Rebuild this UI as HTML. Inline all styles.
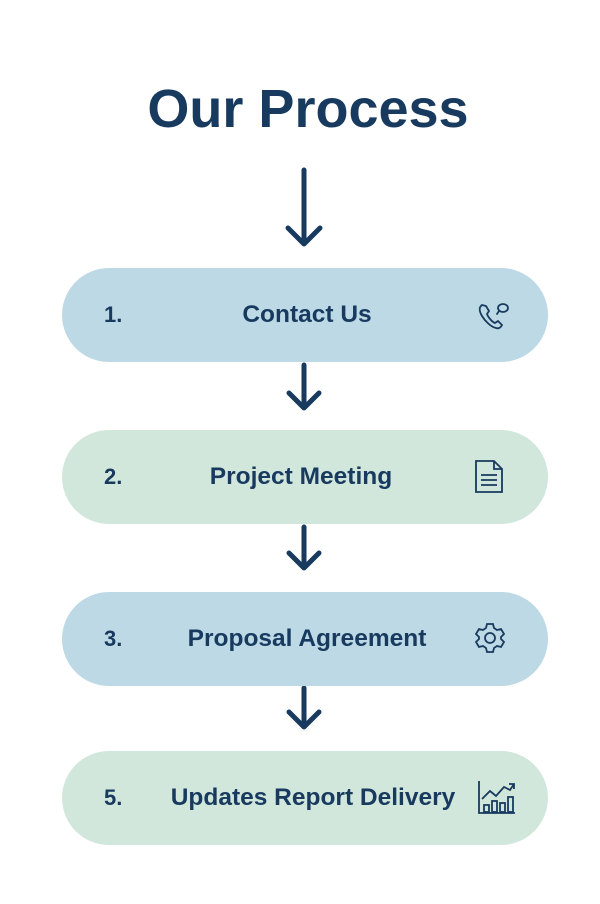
<!DOCTYPE html>
<html><head><style>
body{margin:0;width:600px;height:904px;background:#fff;position:relative;font-family:"Liberation Sans",sans-serif;color:#173a5e;overflow:hidden}
.t{position:absolute;left:0;width:600px;top:78px;text-align:center;font-size:54px;font-weight:bold;letter-spacing:0px;margin-left:8px}
.p{position:absolute;left:62px;width:486px;height:94px;border-radius:47px}
.n{position:absolute;left:42px;top:0;line-height:94px;font-size:22px;font-weight:bold}
.l{position:absolute;left:0;width:486px;text-align:center;top:0;line-height:94px;font-size:24.5px;font-weight:bold}
svg{position:absolute}
</style></head><body>
<div class="t">Our Process</div>
<svg width="600" height="904" style="left:0;top:0">
<g stroke="#173a5e" stroke-width="5" fill="none" stroke-linecap="round" stroke-linejoin="round">
<path d="M304 170V243M288 228L304 244L320 228"/>
<path d="M304 365V407M289 393L304 408L319 393"/>
<path d="M304 527V567M289 553L304 568L319 553"/>
<path d="M304 688V726M289 712L304 727L319 712"/>
</g>
</svg>
<div class="p" style="top:268px;background:#bcd9e5"><div class="n">1.</div><div class="l" style="left:2px">Contact Us</div>
<svg style="left:414px;top:32px" width="36" height="34" viewBox="0 0 36 34" fill="none" stroke="#173a5e" stroke-width="1.8" stroke-linecap="round"><path d="M6 5c-3 2-3 6 0 11s9 11 14 12c3 1 5-1 6-3l-4-4-3 2c-3-1-7-6-8-9l2-3-3-5z"/><ellipse cx="27" cy="8" rx="5" ry="4"/><path d="M23 11l-2 3"/></svg></div>
<div class="p" style="top:430px;background:#d2e7dc"><div class="n">2.</div><div class="l" style="left:-4px">Project Meeting</div>
<svg style="left:410px;top:28px" width="34" height="38" viewBox="0 0 34 38" fill="none" stroke="#173a5e" stroke-width="1.8"><path d="M4 3h18l8 8v23H4z"/><path d="M22 3v8h8M9 17h16M9 22h16M9 27h16"/></svg></div>
<div class="p" style="top:592px;background:#bcd9e5"><div class="n">3.</div><div class="l" style="left:2px">Proposal Agreement</div>
<svg style="left:410px;top:28px" width="36" height="36" viewBox="0 0 36 36" fill="none" stroke="#173a5e" stroke-width="1.8"><circle cx="18" cy="18" r="5"/><path d="M15 4h6l1 4 3 2 4-1 3 5-3 3v2l3 3-3 5-4-1-3 2-1 4h-6l-1-4-3-2-4 1-3-5 3-3v-2l-3-3 3-5 4 1 3-2z"/></svg></div>
<div class="p" style="top:751px;background:#d2e7dc"><div class="n">5.</div><div class="l" style="left:8px">Updates Report Delivery</div>
<svg style="left:414px;top:28px" width="42" height="38" viewBox="0 0 42 38" fill="none" stroke="#173a5e" stroke-width="1.8"><path d="M3 2v32h36"/><rect x="8" y="26" width="5" height="7"/><rect x="16" y="22" width="5" height="11"/><rect x="24" y="24" width="5" height="9"/><rect x="32" y="18" width="5" height="15"/><path d="M6 20l8-8 6 5 8-9 6 3 4-6M33 5h5v5"/></svg></div>
</body></html>
